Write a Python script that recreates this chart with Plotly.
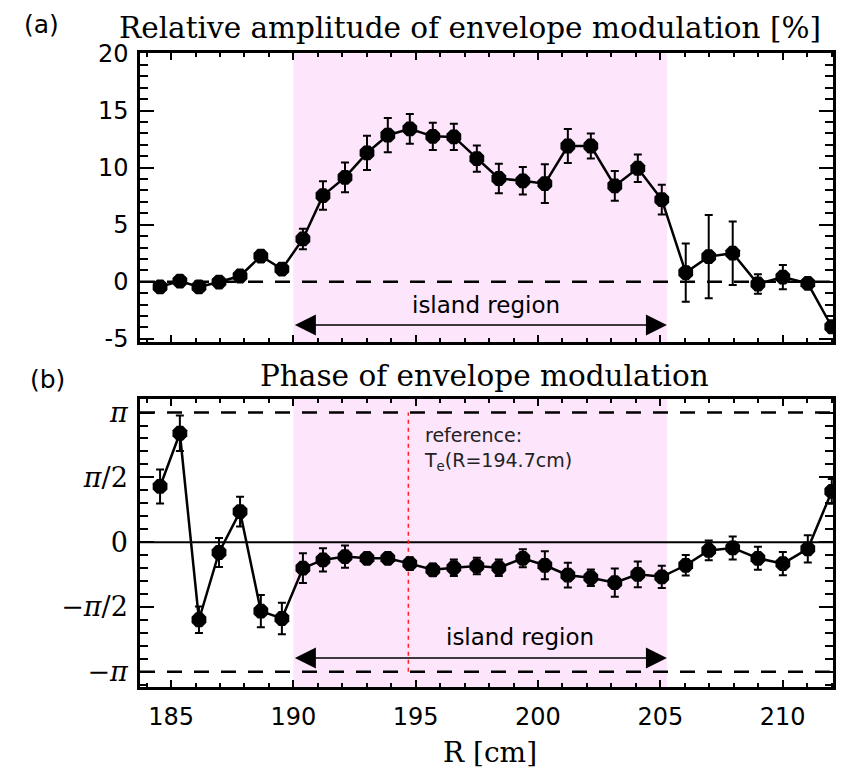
import math
import plotly.graph_objects as go

# ---------------- data ----------------
R = [184.55, 185.36, 186.14, 186.96, 187.82, 188.67, 189.53, 190.39, 191.21, 192.11,
     193.01, 193.86, 194.76, 195.70, 196.56, 197.50, 198.40, 199.38, 200.28, 201.22,
     202.16, 203.14, 204.08, 205.06, 206.04, 206.98, 207.96, 208.99, 210.01, 211.03, 212.01]

amp = [-0.45, 0.06, -0.45, -0.03, 0.5, 2.25, 1.1, 3.75, 7.55, 9.15,
       11.3, 12.85, 13.4, 12.75, 12.7, 10.8, 9.05, 8.85, 8.6, 11.9,
       11.9, 8.4, 9.95, 7.2, 0.8, 2.2, 2.5, -0.2, 0.4, -0.14, -3.95]
amp_err = [0.3, 0.3, 0.3, 0.3, 0.4, 0.5, 0.5, 0.9, 1.25, 1.3,
           1.5, 1.5, 1.3, 1.2, 1.15, 1.15, 1.3, 1.2, 1.7, 1.5,
           1.1, 1.3, 1.2, 1.3, 2.56, 3.65, 2.78, 0.85, 1.07, 0.25, 0.5]

phase = [1.35, 2.64, -1.88, -0.25, 0.74, -1.67, -1.85, -0.63, -0.43, -0.35,
         -0.39, -0.39, -0.52, -0.67, -0.62, -0.58, -0.62, -0.39, -0.56, -0.80,
         -0.86, -0.98, -0.78, -0.84, -0.56, -0.20, -0.14, -0.39, -0.52, -0.16, 1.23]
phase_err = [0.41, 0.43, 0.32, 0.35, 0.36, 0.39, 0.38, 0.36, 0.28, 0.27,
             0.12, 0.12, 0.15, 0.15, 0.2, 0.2, 0.2, 0.22, 0.34, 0.3,
             0.2, 0.34, 0.31, 0.27, 0.25, 0.24, 0.28, 0.28, 0.28, 0.33, 0.3]

island = [190.0, 205.27]
ref_R = 194.7

amp_ticks = [-5, 0, 5, 10, 15, 20]
amp_ticktext = ["-5", "0", "5", "10", "15", "20"]
phase_ticks = [-math.pi, -math.pi / 2, 0, math.pi / 2, math.pi]
phase_ticktext = ["\u2212<i>\u03c0</i>", "\u2212<i>\u03c0</i>/2", "0", "<i>\u03c0</i>/2", "<i>\u03c0</i>"]
x_ticks = [185, 190, 195, 200, 205, 210]

# ---------------- figure ----------------
W, H = 844, 770
XL, XR = 140, 833
fig = go.Figure()

common_trace = dict(
    mode="lines+markers",
    line=dict(color="black", width=2.5),
    marker=dict(symbol="octagon", size=16, color="black"),
    showlegend=False,
)
fig.add_trace(go.Scatter(x=R, y=amp, xaxis="x", yaxis="y",
                         error_y=dict(type="data", array=amp_err, color="black",
                                      thickness=2, width=4),
                         **common_trace))
fig.add_trace(go.Scatter(x=R, y=phase, xaxis="x2", yaxis="y2",
                         error_y=dict(type="data", array=phase_err, color="black",
                                      thickness=2, width=4),
                         **common_trace))

pink = "#fde5fb"
dash = "15px,12px"
shapes = [
    dict(type="rect", xref="x", yref="y domain", x0=island[0], x1=island[1], y0=0, y1=1,
         fillcolor=pink, line=dict(width=0), layer="below"),
    dict(type="rect", xref="x2", yref="y2 domain", x0=island[0], x1=island[1], y0=0, y1=1,
         fillcolor=pink, line=dict(width=0), layer="below"),
    dict(type="line", xref="x domain", yref="y", x0=0, x1=1, y0=0, y1=0,
         line=dict(color="black", width=2.5, dash=dash), layer="below"),
    dict(type="line", xref="x2 domain", yref="y2", x0=0, x1=1, y0=math.pi, y1=math.pi,
         line=dict(color="black", width=2.5, dash=dash), layer="below"),
    dict(type="line", xref="x2 domain", yref="y2", x0=0, x1=1, y0=-math.pi, y1=-math.pi,
         line=dict(color="black", width=2.5, dash=dash), layer="below"),
    dict(type="line", xref="x2 domain", yref="y2", x0=0, x1=1, y0=0, y1=0,
         line=dict(color="black", width=2), layer="below"),
    dict(type="line", xref="x2", yref="y2", x0=ref_R, x1=ref_R, y0=-math.pi, y1=math.pi,
         line=dict(color="#ff2020", width=1.5, dash="4px,4px"), layer="below"),
]

sans = "DejaVu Sans"
serif = "DejaVu Serif"

def pap(x, y):
    return dict(xref="paper", yref="paper", x=x / W, y=1 - y / H,
                xanchor="center", yanchor="middle", showarrow=False)

annotations = [
    # double arrows for island region
    dict(xref="x", yref="y", axref="x", ayref="y", x=island[1], y=-3.8, ax=island[0], ay=-3.8,
         text="", showarrow=True, arrowhead=2, arrowside="end+start", arrowsize=2.8,
         arrowwidth=1.5, arrowcolor="black"),
    dict(xref="x2", yref="y2", axref="x2", ayref="y2", x=island[1], y=-2.81, ax=island[0], ay=-2.81,
         text="", showarrow=True, arrowhead=2, arrowside="end+start", arrowsize=2.8,
         arrowwidth=1.5, arrowcolor="black"),
    dict(xref="x", yref="y", x=197.87, y=-2.0, text="island region", showarrow=False,
         xanchor="center", yanchor="middle",
         font=dict(family=sans, size=23, color="black")),
    dict(xref="x2", yref="y2", x=199.26, y=-2.30, text="island region", showarrow=False,
         xanchor="center", yanchor="middle",
         font=dict(family=sans, size=23, color="black")),
    dict(xref="x2", yref="y2", x=195.25, y=2.26, xanchor="left", yanchor="middle", align="left",
         text="reference:<br>T<sub>e</sub>(R=194.7cm)", showarrow=False,
         font=dict(family=sans, size=19, color="#222222")),
    # titles and panel labels
    dict(**pap(470, 28), text="Relative amplitude of envelope modulation [%]",
         font=dict(family=serif, size=29.5, color="black")),
    dict(**pap(484, 376), text="Phase of envelope modulation",
         font=dict(family=serif, size=29.5, color="black")),
    dict(**pap(41, 25), text="(a)", font=dict(family=sans, size=25, color="black")),
    dict(**pap(47, 380), text="(b)", font=dict(family=sans, size=25, color="black")),
    dict(**pap(490, 752), text="R [cm]", font=dict(family=serif, size=28, color="black")),
]

axis_common = dict(showline=True, linecolor="black", linewidth=2.5, mirror="allticks",
                   showgrid=False, zeroline=False, ticks="inside", tickcolor="black",
                   automargin=False)

xdom = [XL / W, XR / W]
fig.update_layout(
    width=W, height=H, margin=dict(l=0, r=0, t=0, b=0, autoexpand=False),
    paper_bgcolor="white", plot_bgcolor="white",
    shapes=shapes, annotations=annotations,
    xaxis=dict(domain=xdom, range=[183.73, 212.06], anchor="y", tickvals=x_ticks,
               showticklabels=False, ticklen=7, tickwidth=2,
               minor=dict(dtick=1, tick0=185, ticks="inside", ticklen=4, tickwidth=1.5, tickcolor="black"),
               **axis_common),
    yaxis=dict(domain=[1 - 341.7 / H, 1 - 53.3 / H], range=[-5.26, 20.03], anchor="x",
               tickvals=amp_ticks, ticktext=amp_ticktext, ticklen=14, tickwidth=2,
               ticklabelstandoff=4,
               tickfont=dict(family=sans, size=24, color="black"),
               minor=dict(dtick=1, tick0=0, ticks="inside", ticklen=8, tickwidth=2, tickcolor="black"),
               **axis_common),
    xaxis2=dict(domain=xdom, range=[183.73, 212.06], anchor="y2", tickvals=x_ticks,
                ticklen=7, tickwidth=2, ticklabelstandoff=6,
                tickfont=dict(family=sans, size=24, color="black"),
                minor=dict(dtick=1, tick0=185, ticks="inside", ticklen=4, tickwidth=1.5, tickcolor="black"),
                **axis_common),
    yaxis2=dict(domain=[1 - 687 / H, 1 - 399 / H], range=[-3.51, 3.47], anchor="x2",
                tickvals=phase_ticks, ticktext=phase_ticktext, ticklen=14, tickwidth=2,
                ticklabelstandoff=4,
                tickfont=dict(family=serif, size=27, color="black"),
                minor=dict(dtick=math.pi / 10, tick0=0, ticks="inside", ticklen=8, tickwidth=2,
                           tickcolor="black"),
                **axis_common),
)

fig.write_html("out.html")
